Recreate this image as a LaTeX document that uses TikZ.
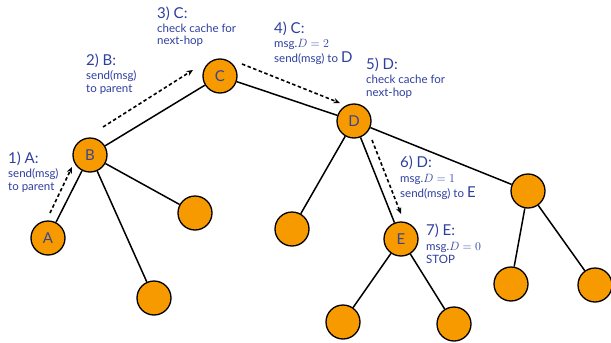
\documentclass[tikz,border=0pt]{standalone}
\usepackage{fontspec}
\setmainfont{Lato}
\usetikzlibrary{arrows.meta}
\definecolor{nodeorange}{HTML}{F79A00}
\definecolor{txtblue}{HTML}{2E3F9E}
\definecolor{lettercol}{HTML}{3A4590}
\newcommand{\hdfont}{\fontsize{15}{15}\selectfont}
% #1 name, #2 x, #3..#5 baselines, #6 header, #7 line 1, #8 line 2
\newcommand{\steplabel}[8]{%
  \node[hdl] (#1h) at (#2,#3) {#6};
  \node[bdl] (#1a) at (#2,#4) {#7};
  \node[bdl] (#1b) at (#2,#5) {#8};}
\begin{document}
\begin{tikzpicture}[x=1pt,y=-1pt,
  tnode/.style={circle,draw=black,line width=1.3pt,fill=nodeorange,minimum size=34pt,inner sep=0pt,text=lettercol,font=\fontsize{15}{15}\selectfont},
  edge/.style={line width=1.5pt},
  hop/.style={line width=1.6pt,dash pattern=on 3.5pt off 2.5pt,-{Stealth[length=6.5pt,width=5.5pt]}},
  hdl/.style={anchor=base west,inner sep=0pt,text=txtblue,font=\hdfont},
  bdl/.style={anchor=base west,inner sep=0pt,text=txtblue,font=\fontsize{11.5}{11.5}\selectfont}]
\useasboundingbox (0,0) rectangle (611,343);
% nodes
\node[tnode] (A) at (48,238) {A};
\node[tnode] (B) at (90,155) {B};
\node[tnode] (b1) at (195,213) {};
\node[tnode] (b2) at (154,298) {};
\node[tnode] (C) at (220,76) {C};
\node[tnode] (D) at (354,121) {D};
\node[tnode] (d1) at (292,229) {};
\node[tnode] (E) at (401,239) {E};
\node[tnode] (e1) at (343,322) {};
\node[tnode] (e2) at (454,324) {};
\node[tnode] (R) at (528,191) {};
\node[tnode] (r1) at (511,284) {};
\node[tnode] (r2) at (595,285) {};
% edges
\draw[edge] (A) -- (B);
\draw[edge] (B) -- (C);
\draw[edge] (B) -- (b1);
\draw[edge] (B) -- (b2);
\draw[edge] (C) -- (D);
\draw[edge] (D) -- (d1);
\draw[edge] (D) -- (E);
\draw[edge] (D) -- (R);
\draw[edge] (E) -- (e1);
\draw[edge] (E) -- (e2);
\draw[edge] (R) -- (r1);
\draw[edge] (R) -- (r2);
% hop arrows
\coordinate (h1s) at (50,213); \coordinate (h1e) at (72,167);
\coordinate (h2s) at (103,127); \coordinate (h2e) at (193,70);
\coordinate (h3s) at (242,64); \coordinate (h3e) at (340,103);
\coordinate (h4s) at (372,140); \coordinate (h4e) at (401,214);
\draw[hop] (h1s) -- (h1e);
\draw[hop] (h2s) -- (h2e);
\draw[hop] (h3s) -- (h3e);
\draw[hop] (h4s) -- (h4e);
% labels
\steplabel{l1}{8}{163}{177}{190}{1) A:}{send(msg)}{to parent}
\steplabel{l2}{86}{65}{79}{92}{2) B:}{send(msg)}{to parent}
\steplabel{l3}{157}{18}{32}{44.5}{3) C:}{check cache for}{next-hop}
\steplabel{l4}{274}{33}{47}{62}{4) C:}{msg.$D=2$}{send(msg) to {\hdfont D}}
\steplabel{l5}{366}{69}{83}{96}{5) D:}{check cache for}{next-hop}
\steplabel{l6}{400}{167}{182}{197}{6) D:}{msg.$D=1$}{send(msg) to {\hdfont E}}
\steplabel{l7}{426}{235}{250}{263}{7) E:}{msg.$D=0$}{STOP}
\end{tikzpicture}
\end{document}
